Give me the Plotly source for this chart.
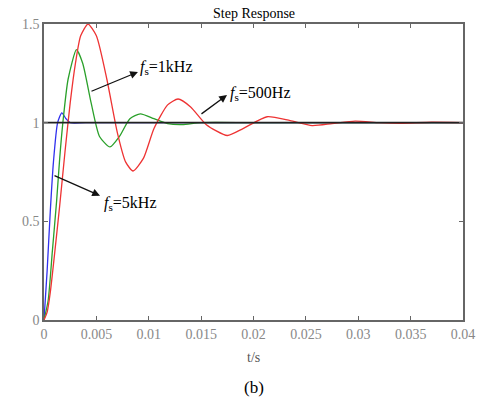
import plotly.graph_objects as go

# Data
t_red = [0, 0.0003, 0.0006, 0.001, 0.0015, 0.002, 0.0025, 0.003, 0.0035, 0.0042, 0.005, 0.006, 0.007,
         0.0078, 0.0085, 0.0095, 0.0105, 0.0118, 0.0128, 0.014, 0.0155, 0.0175, 0.019, 0.0213,
         0.0235, 0.0256, 0.0275, 0.0297, 0.032, 0.034, 0.037, 0.04]
v_red = [0, 0.04, 0.14, 0.33, 0.58, 0.85, 1.1, 1.3, 1.44, 1.5, 1.44, 1.22, 0.95,
         0.8, 0.755, 0.82, 0.97, 1.09, 1.12, 1.08, 0.99, 0.935, 0.97, 1.03,
         1.01, 0.985, 0.995, 1.008, 1.0, 0.997, 1.002, 1.0]

t_green = [0, 0.0004, 0.0008, 0.0012, 0.0015, 0.0018, 0.0023, 0.0031, 0.0037, 0.0045, 0.0053, 0.0063,
           0.0072, 0.0082, 0.0092, 0.0105, 0.0118, 0.0132, 0.015, 0.02, 0.04]
v_green = [0, 0.1, 0.35, 0.6, 0.82, 1.0, 1.22, 1.37, 1.3, 1.1, 0.93, 0.877,
           0.93, 1.02, 1.045, 1.02, 0.995, 0.99, 1.0, 1.0, 1.0]

t_blue = [0, 0.0003, 0.0006, 0.0009, 0.0013, 0.0017, 0.0021, 0.0025, 0.004, 0.04]
v_blue = [0, 0.25, 0.55, 0.8, 1.0, 1.05, 1.02, 1.0, 1.0, 1.0]

t_ref = [0, 0.04]
v_ref = [1, 1]

x_ticks = [0, 0.005, 0.01, 0.015, 0.02, 0.025, 0.03, 0.035, 0.04]
x_labels = ["0", "0.005", "0.01", "0.015", "0.02", "0.025", "0.03", "0.035", "0.04"]
y_ticks = [0, 0.5, 1, 1.5]
y_labels = ["0", "0.5", "1", "1.5"]

fig = go.Figure()
fig.add_trace(go.Scatter(x=t_blue, y=v_blue, mode="lines", line=dict(color="#3030ee", width=1.3, shape="spline", smoothing=0.6), showlegend=False))
fig.add_trace(go.Scatter(x=t_green, y=v_green, mode="lines", line=dict(color="#2aa02a", width=1.3, shape="spline", smoothing=0.6), showlegend=False))
fig.add_trace(go.Scatter(x=t_red, y=v_red, mode="lines", line=dict(color="#ee3333", width=1.3, shape="spline", smoothing=0.6), showlegend=False))
fig.add_trace(go.Scatter(x=t_ref, y=v_ref, mode="lines", line=dict(color="#222222", width=1.6), showlegend=False))

serif = "Liberation Serif, Times New Roman, serif"

def arrow(x, y, ax, ay):
    fig.add_annotation(x=x, y=y, ax=ax, ay=ay, xref="x", yref="y", axref="x", ayref="y",
                       text="", showarrow=True, arrowhead=2, arrowsize=1.2, arrowwidth=1.3,
                       arrowcolor="#111111")

def label(x, y, txt):
    fig.add_annotation(x=x, y=y, xref="x", yref="y", text=txt, showarrow=False,
                       xanchor="left", yanchor="middle", font=dict(family=serif, size=16, color="black"))

arrow(0.00897, 1.257, 0.00439, 1.156)
label(0.0090, 1.28, "<i>f</i><sub>s</sub>=1kHz")
arrow(0.01747, 1.140, 0.01489, 1.039)
label(0.0176, 1.150, "<i>f</i><sub>s</sub>=500Hz")
arrow(0.00535, 0.630, 0.00086, 0.735)
label(0.0055, 0.59, "<i>f</i><sub>s</sub>=5kHz")

fig.add_annotation(x=0.5, y=1, xref="paper", yref="paper", yanchor="bottom", yshift=1,
                   text="Step Response", showarrow=False, font=dict(family=serif, size=14, color="black"))
fig.add_annotation(x=0.5, y=0, xref="paper", yref="paper", yanchor="middle", yshift=-37,
                   text="t/s", showarrow=False, font=dict(family=serif, size=14, color="#555555"))
fig.add_annotation(x=0.5, y=0, xref="paper", yref="paper", yanchor="middle", yshift=-67,
                   text="(b)", showarrow=False, font=dict(family=serif, size=17, color="black"))

axis_common = dict(showgrid=False, zeroline=False, showline=True, linecolor="#666666", linewidth=1.5,
                   mirror="ticks", ticks="inside", ticklen=4, tickcolor="#666666",
                   tickfont=dict(family=serif, size=14, color="#888888"))

fig.update_xaxes(range=[0, 0.04], tickvals=x_ticks, ticktext=x_labels, **axis_common)
fig.update_yaxes(range=[0, 1.5], tickvals=y_ticks, ticktext=y_labels, **axis_common)

fig.update_layout(width=491, height=405, margin=dict(l=44, r=28, t=24, b=85),
                  plot_bgcolor="white", paper_bgcolor="white")

fig.write_html("out.html")
